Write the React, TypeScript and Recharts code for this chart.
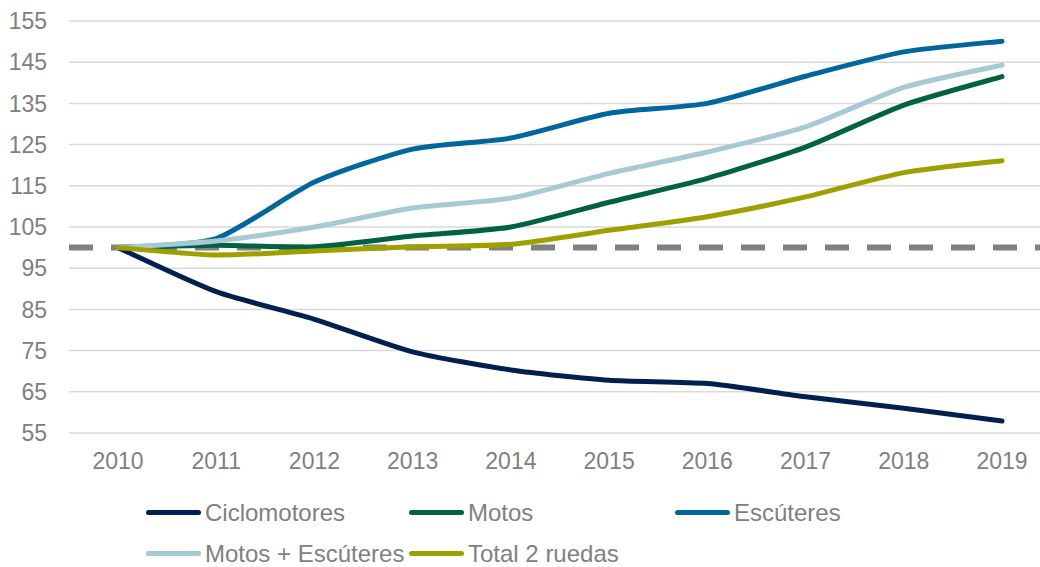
import React from 'react';
import { LineChart, Line, XAxis, YAxis, CartesianGrid, ReferenceLine } from 'recharts';

const years = ['2010', '2011', '2012', '2013', '2014', '2015', '2016', '2017', '2018', '2019'];
const ciclomotores = [100, 89.3, 82.6, 74.7, 70.3, 67.8, 67.0, 63.8, 61.0, 57.9];
const motos = [100, 100.6, 100.2, 102.8, 105.0, 111.0, 116.8, 124.4, 134.6, 141.5];
const escuteres = [100, 102.2, 115.9, 123.9, 126.6, 132.6, 135.0, 141.6, 147.5, 150.1];
const motosEscuteres = [100, 101.6, 105.0, 109.6, 112.0, 118.0, 123.2, 129.3, 138.9, 144.3];
const total2Ruedas = [100, 98.2, 99.2, 100.2, 100.8, 104.2, 107.5, 112.3, 118.2, 121.1];
const yTicks = [55, 65, 75, 85, 95, 105, 115, 125, 135, 145, 155];

const series = [
  { key: 'ciclomotores', name: 'Ciclomotores', color: '#00214f', values: ciclomotores },
  { key: 'motos', name: 'Motos', color: '#00623f', values: motos },
  { key: 'escuteres', name: 'Escúteres', color: '#00679d', values: escuteres },
  { key: 'motosEscuteres', name: 'Motos + Escúteres', color: '#a6c9d6', values: motosEscuteres },
  { key: 'total', name: 'Total 2 ruedas', color: '#9fa000', values: total2Ruedas },
];

const data = years.map((year, i) => {
  const row: Record<string, string | number> = { year };
  series.forEach((s) => { row[s.key] = s.values[i]; });
  return row;
});

const FONT = '"Liberation Sans", Arial, sans-serif';
const GRAY = '#808080';

// Excel-like smoothed line: cardinal spline with fairly tight corners
function smoothCurve(context: any) {
  let pts: [number, number][] = [];
  const k = 0.11;
  return {
    areaStart() {},
    areaEnd() {},
    lineStart() { pts = []; },
    point(x: number, y: number) { pts.push([+x, +y]); },
    lineEnd() {
      if (!pts.length) return;
      context.moveTo(pts[0][0], pts[0][1]);
      for (let i = 0; i < pts.length - 1; i++) {
        const p0 = pts[i - 1] || pts[i];
        const p1 = pts[i];
        const p2 = pts[i + 1];
        const p3 = pts[i + 2] || p2;
        context.bezierCurveTo(
          p1[0] + (p2[0] - p0[0]) * k, p1[1] + (p2[1] - p0[1]) * k,
          p2[0] - (p3[0] - p1[0]) * k, p2[1] - (p3[1] - p1[1]) * k,
          p2[0], p2[1],
        );
      }
    },
  };
}

function LegendBox() {
  return (
    <div style={{ position: 'absolute', top: 501, left: 146, display: 'grid', gridTemplateColumns: '263px 266px 266px', rowGap: 17 }}>
      {series.map((s) => (
        <div key={s.key} style={{ display: 'flex', alignItems: 'center', height: 24, whiteSpace: 'nowrap' }}>
          <span style={{ display: 'inline-block', width: 55, height: 5, borderRadius: 3, background: s.color, marginRight: 4, marginTop: -2 }} />
          <span style={{ fontFamily: FONT, fontSize: 24, lineHeight: '24px', color: GRAY }}>{s.name}</span>
        </div>
      ))}
    </div>
  );
}

export default function App() {
  return (
    <div style={{ position: 'absolute', top: 0, left: 0, width: 1040, height: 567, overflow: 'hidden', background: '#fff' }}>
      <LineChart width={1060} height={567} data={data} margin={{ top: 21, right: 9, left: 9, bottom: 114 }}>
        <CartesianGrid vertical={false} stroke="#d9d9d9" strokeWidth={1.5} />
        <XAxis dataKey="year" axisLine={false} tickLine={false} tickSize={0} tickMargin={20} height={20}
          padding={{ left: 49, right: 49 }} tick={{ fill: GRAY, fontSize: 23, fontFamily: FONT }} interval={0} />
        <YAxis domain={[55, 155]} ticks={yTicks} width={60} axisLine={false} tickLine={false} tickSize={0} tickMargin={22}
          tick={{ fill: GRAY, fontSize: 23, fontFamily: FONT }} />
        <ReferenceLine y={100} stroke="#808080" strokeWidth={6} strokeDasharray="24 18" />
        {series.map((s) => (
          <Line key={s.key} type={smoothCurve as any} dataKey={s.key} name={s.name} stroke={s.color} strokeWidth={5}
            dot={false} activeDot={false} strokeLinecap="round" strokeLinejoin="round" isAnimationActive={false} />
        ))}
      </LineChart>
      <LegendBox />
    </div>
  );
}
